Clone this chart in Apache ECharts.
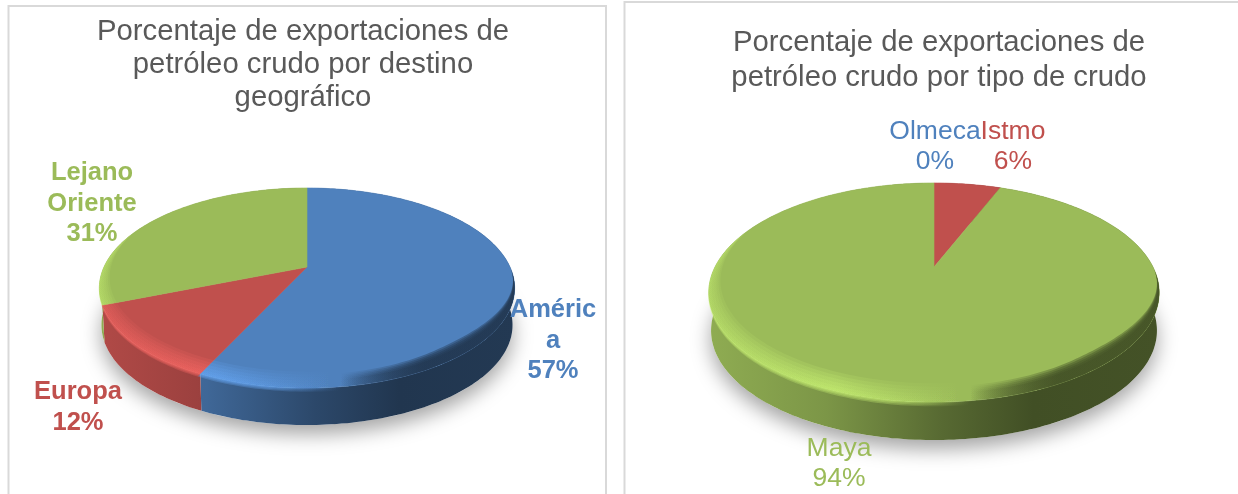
<!DOCTYPE html>
<html>
<head>
<meta charset="utf-8">
<style>html,body{margin:0;padding:0;background:#fff}#main{width:1238px;height:494px}</style>
<script src="https://cdn.jsdelivr.net/npm/echarts@6/dist/echarts.min.js"></script>
</head>
<body>
<div id="main"></div>
<script>
var destinoNames = ['América', 'Europa', 'Lejano Oriente'];
var destinoValues = [57, 12, 31];
var destinoLabels = ['Améric\na\n57%', 'Europa\n12%', 'Lejano\nOriente\n31%'];

var tipoNames = ['Olmeca', 'Istmo', 'Maya'];
var tipoValues = [0, 6, 94];
var tipoLabels = ['Olmeca\n0%', 'Istmo\n6%', 'Maya\n94%'];

var colors = ['#4f81bd', '#c0504d', '#9bbb59'];

// pie shape on screen: apex, widths and the fake perspective of the tilted disc
var destinoPie = { cx: 307, cy: 267, R: 203, S: 95.6, k: 0.21, depth: 37, labels: [[553, 295], [78, 377], [92, 158]], font: 'bold 25.5px "Liberation Sans"', line: 30.5 };
var tipoPie = { cx: 934, cy: 267, R: 219, S: 103.6, k: 0.233, depth: 38, labels: [[935, 116], [1013, 116], [839, 433]], font: '26.5px "Liberation Sans"', line: 30.5 };

var FRONT_FROM = Math.PI * 0.42;
var FRONT_TO = Math.PI * 1.62;
var DARK_FROM = Math.PI * 0.5;

function project(p, angle, rad) {
    var u = rad * Math.sin(angle);
    var v = -rad * Math.cos(angle);
    var w = 1 - p.k * v;
    return [p.cx + p.R * u / w, p.cy + p.S * v / w];
}

function arc(p, from, to, radFn, dy, sx) {
    var pts = [];
    var n = Math.max(2, Math.ceil((to - from) / 0.02));
    for (var i = 0; i <= n; i++) {
        var a = from + (to - from) * i / n;
        var q = project(p, a, radFn ? radFn(a) : 1);
        pts.push([p.cx + (q[0] - p.cx) * (sx || 1), q[1] + (dy || 0)]);
    }
    return pts;
}

function sliceAngles(api) {
    var start = api.value(1) / 100 * Math.PI * 2;
    return [start, start + api.value(0) / 100 * Math.PI * 2];
}

function mix(hex, f) {
    return echarts.color.lerp(f, ['#000000', hex]);
}

// brighter, still saturated version of a slice colour with some alpha
function bright(hex, alpha) {
    var c = echarts.color.parse(hex);
    return 'rgba(' + Math.min(255, Math.round(c[0] * 1.32)) + ',' + Math.min(255, Math.round(c[1] * 1.32)) + ',' + Math.min(255, Math.round(c[2] * 1.32)) + ',' + alpha + ')';
}

function hGradient(p, stops) {
    return new echarts.graphic.LinearGradient(p.cx - p.R * 1.03, 0, p.cx + p.R * 1.03, 0, stops, true);
}

function taper(a) {
    var t = (a - FRONT_FROM) / (FRONT_TO - FRONT_FROM);
    return Math.sin(Math.PI * Math.min(1, Math.max(0, t)));
}

function darkRamp(a) {
    var t = Math.min(1, Math.max(0, (a - DARK_FROM) / (Math.PI * 0.3)));
    return t * t * (3 - 2 * t);
}

function crescent(p, from, to, radFn, fill) {
    return {
        type: 'polygon',
        shape: { points: arc(p, from, to).concat(arc(p, from, to, radFn).reverse()) },
        style: { fill: fill }
    };
}

function makeLayer(p, labels, layer) {
    return function (params, api) {
        var i = params.dataIndex;
        var ang = sliceAngles(api);
        var color = colors[i];
        if (layer === 'shadow') {
            if (i > 0) return { type: 'group', children: [] };
            return {
                type: 'polygon',
                shape: { points: arc(p, 0, Math.PI * 2, null, p.depth, 0.99) },
                style: { fill: '#ffffff', shadowBlur: 20, shadowOffsetY: 9, shadowColor: 'rgba(0,0,0,0.36)' }
            };
        }
        if (layer === 'label') {
            return {
                type: 'text',
                style: {
                    text: labels[i], x: p.labels[i][0], y: p.labels[i][1], fill: color,
                    font: p.font, lineHeight: p.line, align: 'center', verticalAlign: 'top'
                }
            };
        }
        if (ang[1] <= ang[0]) return { type: 'group', children: [] };
        if (layer === 'side') {
            var top = arc(p, ang[0], ang[1]);
            var bottom = arc(p, ang[0], ang[1], null, p.depth, 0.99).reverse();
            return {
                type: 'polygon',
                shape: { points: top.concat(bottom) },
                style: {
                    fill: hGradient(p, [
                        { offset: 0, color: mix(color, 0.92) },
                        { offset: 0.26, color: mix(color, 0.8) },
                        { offset: 0.52, color: mix(color, 0.56) },
                        { offset: 0.72, color: mix(color, 0.42) },
                        { offset: 1, color: mix(color, 0.44) }
                    ])
                }
            };
        }
        if (layer === 'top') {
            return {
                type: 'polygon',
                shape: { points: [[p.cx, p.cy]].concat(arc(p, ang[0], ang[1])) },
                style: { fill: color, stroke: color, lineWidth: 0.6 }
            };
        }
        // bevel: stacked crescents along the front rim, light on the left, wall colour on the right
        var from = Math.max(ang[0], FRONT_FROM);
        var to = Math.min(ang[1], FRONT_TO);
        if (to <= from) return { type: 'group', children: [] };
        var kids = [];
        var lightFill = hGradient(p, [
            { offset: 0, color: bright(color, 0.09) },
            { offset: 0.12, color: bright(color, 0.12) },
            { offset: 0.28, color: bright(color, 0.17) },
            { offset: 0.42, color: bright(color, 0.08) },
            { offset: 0.56, color: bright(color, 0) },
            { offset: 1, color: bright(color, 0) }
        ]);
        var wall = mix(color, 0.42);
        var darkFill = hGradient(p, [
            { offset: 0, color: echarts.color.modifyAlpha(wall, 0) },
            { offset: 0.58, color: echarts.color.modifyAlpha(wall, 0) },
            { offset: 0.78, color: echarts.color.modifyAlpha(wall, 0.42) },
            { offset: 1, color: echarts.color.modifyAlpha(wall, 0.42) }
        ]);
        // soft edge spilling over the wall, only on the lit side
        [0.008, 0.016, 0.024].forEach(function (w) {
            kids.push(crescent(p, from, to, function (a) { return 1 + w * Math.pow(taper(a), 3); }, hGradient(p, [
                { offset: 0, color: bright(color, 0.3) },
                { offset: 0.4, color: bright(color, 0.3) },
                { offset: 0.58, color: bright(color, 0) },
                { offset: 1, color: bright(color, 0) }
            ])));
        });
        [0.015, 0.03, 0.05, 0.07, 0.09, 0.11].forEach(function (w) {
            kids.push(crescent(p, from, to, function (a) { return 1 - w * taper(a); }, lightFill));
        });
        var darkStart = Math.max(ang[0], DARK_FROM);
        if (to > darkStart) {
            [0.05, 0.06, 0.07, 0.08, 0.09].forEach(function (w) {
                kids.push(crescent(p, darkStart, to, function (a) { return 1 - w * darkRamp(a); }, darkFill));
            });
        }
        return { type: 'group', children: kids };
    };
}

function pieRows(values) {
    var sum = 0;
    return values.map(function (v) {
        var row = [v, sum];
        sum += v;
        return row;
    });
}

function pieSeries(p, labels, values) {
    var rows = pieRows(values);
    return ['shadow', 'side', 'top', 'bevel', 'label'].map(function (layer, n) {
        return {
            type: 'custom',
            coordinateSystem: 'none',
            silent: true,
            z: 2 + n,
            data: rows,
            renderItem: makeLayer(p, labels, layer)
        };
    });
}

var myChart = echarts.init(document.getElementById('main'));

var option = {
    animation: false,
    backgroundColor: '#ffffff',
    title: [
        {
            text: 'Porcentaje de exportaciones de\npetróleo crudo por destino\ngeográfico',
            left: 298, top: 10, textAlign: 'center',
            textStyle: { color: '#595959', fontFamily: 'Liberation Sans', fontWeight: 'normal', fontSize: 29.3, lineHeight: 33 }
        },
        {
            text: 'Porcentaje de exportaciones de\npetróleo crudo por tipo de crudo',
            left: 934, top: 20, textAlign: 'center',
            textStyle: { color: '#595959', fontFamily: 'Liberation Sans', fontWeight: 'normal', fontSize: 29.3, lineHeight: 35 }
        }
    ],
    graphic: [
        { type: 'polyline', shape: { points: [[8.5, 494], [8.5, 6], [606, 6], [606, 494]] }, style: { fill: null, stroke: '#d9d9d9', lineWidth: 2 } },
        { type: 'polyline', shape: { points: [[624.5, 494], [624.5, 2], [1238, 2]] }, style: { fill: null, stroke: '#d9d9d9', lineWidth: 2 } }
    ],
    series: pieSeries(destinoPie, destinoLabels, destinoValues)
        .concat(pieSeries(tipoPie, tipoLabels, tipoValues))
};

myChart.setOption(option);
</script>
</body>
</html>
